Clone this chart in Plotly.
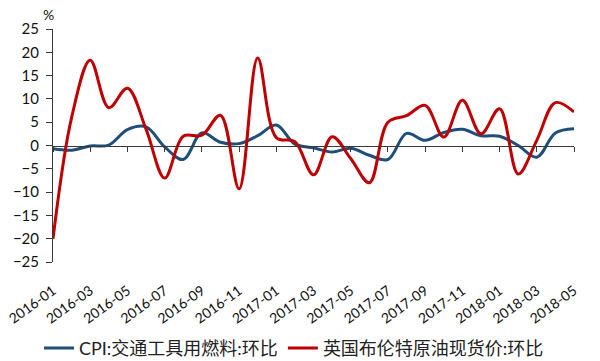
import plotly.graph_objects as go

months = ["2016-01","2016-02","2016-03","2016-04","2016-05","2016-06","2016-07","2016-08",
          "2016-09","2016-10","2016-11","2016-12","2017-01","2017-02","2017-03","2017-04",
          "2017-05","2017-06","2017-07","2017-08","2017-09","2017-10","2017-11","2017-12",
          "2018-01","2018-02","2018-03","2018-04","2018-05"]

cpi_fuel = [-0.7, -1.0, -0.1, 0.1, 3.4, 4.0, -0.3, -3.0, 2.7, 0.7, 0.4, 2.1, 4.4, 0.3,
            -0.5, -1.4, -0.6, -2.1, -3.0, 2.6, 1.1, 2.8, 3.5, 2.1, 2.0, 0.0, -2.5, 2.7, 3.6]

brent = [-20.0, 6.0, 18.3, 8.1, 12.3, 3.5, -7.0, 2.0, 2.2, 6.5, -9.3, 18.8, 1.7, 0.8,
         -6.3, 1.9, -2.8, -8.0, 5.0, 6.4, 8.6, 1.8, 9.7, 2.5, 7.9, -6.1, 1.1, 9.2, 7.2]

tick_labels = months[::2]
y_ticks = list(range(-25, 30, 5))

name_cpi = "CPI:交通工具用燃料:环比"
name_brent = "英国布伦特原油现货价:环比"

FONT = "Lato, 'Noto Sans CJK SC', sans-serif"
AXIS = "#3a3a3a"

fig = go.Figure()
fig.add_trace(go.Scatter(x=months, y=cpi_fuel, name=name_cpi, mode="lines",
                         line=dict(color="#1F4E79", width=3, shape="spline", smoothing=1),
                         xaxis="x", yaxis="y"))
fig.add_trace(go.Scatter(x=months, y=brent, name=name_brent, mode="lines",
                         line=dict(color="#C00000", width=3, shape="spline", smoothing=1),
                         xaxis="x", yaxis="y"))
# invisible carrier trace so the label axis knows the categories
fig.add_trace(go.Scatter(x=months, y=[None] * len(months), showlegend=False,
                         hoverinfo="skip", xaxis="x2", yaxis="y"))

fig.update_layout(
    width=600, height=361,
    margin=dict(l=53, r=26, t=29, b=99, autoexpand=False),
    paper_bgcolor="white", plot_bgcolor="white",
    font=dict(family=FONT, color="#111111"),
    showlegend=True,
    xaxis=dict(type="category", range=[0, len(months) - 1], anchor="free", position=0.5,
               showline=True, linecolor=AXIS, linewidth=1,
               ticks="outside", ticklen=5, tickcolor=AXIS, tickwidth=1,
               tickmode="array", tickvals=tick_labels, showticklabels=False,
               showgrid=False, zeroline=False, automargin=False),
    xaxis2=dict(type="category", range=[0, len(months) - 1], overlaying="x", anchor="y",
                side="bottom", showline=False, ticks="", showgrid=False, zeroline=False,
                tickmode="array", tickvals=tick_labels, ticktext=tick_labels,
                tickangle=-36, tickfont=dict(size=14, family=FONT, color="#111111"),
                ticklabelstandoff=17, automargin=False),
    yaxis=dict(range=[-25, 25], tickmode="array", tickvals=y_ticks,
               showline=True, linecolor=AXIS, linewidth=1,
               ticks="outside", ticklen=6, tickcolor=AXIS, tickwidth=1,
               showgrid=False, zeroline=False, automargin=False,
               tickfont=dict(size=15, family=FONT, color="#111111"),
               ticklabelstandoff=4),
    legend=dict(orientation="h", xref="container", yref="container",
                x=0.49, y=0.035, xanchor="center", yanchor="middle",
                font=dict(size=18, family=FONT, color="#222222"),
                itemwidth=30, bgcolor="rgba(0,0,0,0)"),
    annotations=[dict(text="%", xref="paper", yref="paper", x=-0.008, y=1.0,
                      xanchor="center", yanchor="bottom", yshift=4, showarrow=False,
                      font=dict(size=14, family=FONT, color="#111111"))],
)

fig.write_html("out.html", config={"displayModeBar": False},
               post_script="document.body.style.margin='0px';document.body.style.padding='0px';")
